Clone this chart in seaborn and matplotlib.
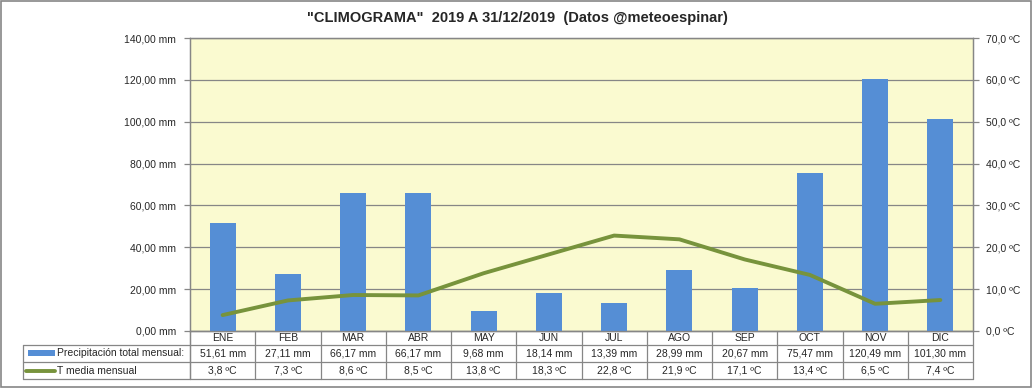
import numpy as np
import matplotlib.pyplot as plt
import matplotlib.lines as mlines
import matplotlib.patches as mpatches
import pandas as pd
import seaborn as sns

meses = ['ENE', 'FEB', 'MAR', 'ABR', 'MAY', 'JUN', 'JUL', 'AGO', 'SEP', 'OCT', 'NOV', 'DIC']
precip = [51.61, 27.11, 66.17, 66.17, 9.68, 18.14, 13.39, 28.99, 20.67, 75.47, 120.49, 101.30]
temp = [3.8, 7.3, 8.6, 8.5, 13.8, 18.3, 22.8, 21.9, 17.1, 13.4, 6.5, 7.4]
serie_precip = 'Precipitación total mensual:'
serie_temp = 'T media mensual'
titulo = '"CLIMOGRAMA"  2019 A 31/12/2019  (Datos @meteoespinar)'

azul = '#558ED5'
verde = '#77933C'
gris = '#868686'

sns.set_style('white')
plt.rcParams['font.family'] = ['Liberation Sans', 'DejaVu Sans']

df = pd.DataFrame({'mes': meses, 'precip': precip, 'temp': temp, 'pos': np.arange(len(meses))})

fig = plt.figure(figsize=(10.33, 3.88), dpi=100)
ax = fig.add_axes([190 / 1033, 1 - 331 / 388, 783 / 1033, 293 / 388])
ax.set_facecolor('#FAFAD0')

sns.barplot(data=df, x='mes', y='precip', color=azul, width=0.4, saturation=1,
            linewidth=0, ax=ax, zorder=3)
ax.set_ylim(0, 140)
ax.set_xlim(-0.5, len(meses) - 0.5)
ax.set_yticks(np.arange(0, 141, 20))
ax.set_yticklabels([f'{v:.2f} mm'.replace('.', ',') for v in np.arange(0, 141, 20)], fontsize=7.5)
ax.set_xticks([])
ax.set_xlabel('')
ax.set_ylabel('')
ax.grid(axis='y', color=gris, linewidth=0.9, zorder=0)
ax.set_axisbelow(True)
ax.tick_params(axis='y', left=True, length=4, color=gris, width=0.9, pad=6)

ax2 = ax.twinx()
sns.lineplot(data=df, x='pos', y='temp', color=verde, linewidth=2.8, ax=ax2, zorder=4)
ax2.set_ylim(0, 70)
ax2.set_xlim(-0.5, len(meses) - 0.5)
ax2.set_yticks(np.arange(0, 71, 10))
ax2.set_yticklabels([f'{v:.1f} ºC'.replace('.', ',') for v in np.arange(0, 71, 10)], fontsize=7.5)
ax2.set_ylabel('')
ax2.set_xlabel('')
ax2.tick_params(axis='y', right=True, length=4, color=gris, width=0.9, pad=5)

for a in (ax, ax2):
    for s in a.spines.values():
        s.set_color(gris)
        s.set_linewidth(0.9)

# tabla de datos bajo el gráfico
h = 293.0
y_rows = [0, -14 / h, -31 / h, -48 / h]
x_left = -167 / 783
tr = ax.get_xaxis_transform()
kw = dict(color=gris, linewidth=0.9, clip_on=False, transform=ax.transAxes)
for i, y in enumerate(y_rows):
    x0 = 0 if i == 0 else x_left
    ax.add_line(mlines.Line2D([x0, 1], [y, y], **kw))
ax.add_line(mlines.Line2D([x_left, x_left], [y_rows[1], y_rows[3]], **kw))
ax.add_line(mlines.Line2D([0, 0], [y_rows[0], y_rows[3]], **kw))
for k in range(len(meses) + 1):
    ax.add_line(mlines.Line2D([k - 0.5, k - 0.5], [y_rows[0], y_rows[3]], color=gris,
                              linewidth=0.9, clip_on=False, transform=tr))

for k, (m, p, t) in enumerate(zip(meses, precip, temp)):
    ax.text(k, (y_rows[0] + y_rows[1]) / 2, m, transform=tr, ha='center', va='center', fontsize=7.5)
    ax.text(k, (y_rows[1] + y_rows[2]) / 2, f'{p:.2f} mm'.replace('.', ','), transform=tr,
            ha='center', va='center', fontsize=7.5)
    ax.text(k, (y_rows[2] + y_rows[3]) / 2, f'{t:.1f} ºC'.replace('.', ','), transform=tr,
            ha='center', va='center', fontsize=7.5)

# claves de leyenda y nombres de serie
ax.add_patch(mpatches.Rectangle((-162 / 783, y_rows[1] - 11 / h), 27 / 783, 6 / h,
                                facecolor=azul, edgecolor='none', clip_on=False,
                                transform=ax.transAxes))
ax.add_line(mlines.Line2D([-164 / 783, -135 / 783], [(y_rows[2] + y_rows[3]) / 2] * 2,
                          color=verde, linewidth=2.8, clip_on=False, transform=ax.transAxes))
ax.text(-133 / 783, (y_rows[1] + y_rows[2]) / 2, serie_precip, transform=ax.transAxes,
        ha='left', va='center', fontsize=7.5)
ax.text(-133 / 783, (y_rows[2] + y_rows[3]) / 2, serie_temp, transform=ax.transAxes,
        ha='left', va='center', fontsize=7.5)

fig.text(517 / 1033, 1 - 18 / 388, titulo, ha='center', va='center', fontsize=10.5, fontweight='bold')
fig.patches.append(mpatches.Rectangle((0.001, 0.002), 0.997, 0.995, transform=fig.transFigure,
                                      fill=False, edgecolor=gris, linewidth=1.2))

fig.savefig('out.png', dpi=100)
